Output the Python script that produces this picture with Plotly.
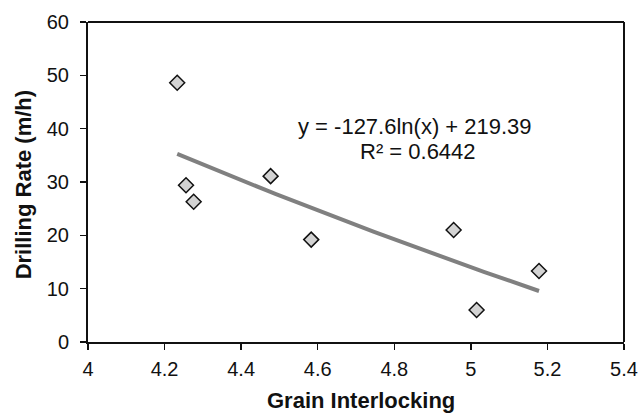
import numpy as np
import plotly.graph_objects as go

grain_interlocking = [4.233, 4.256, 4.276, 4.477, 4.583, 4.955, 5.015, 5.178]
drilling_rate = [48.6, 29.4, 26.3, 31.1, 19.2, 21.0, 6.0, 13.3]

# Logarithmic trendline reported on the chart: y = a*ln(x) + b
trend_a = -127.6
trend_b = 219.39
r_squared = 0.6442

x_title = "Grain Interlocking"
y_title = "Drilling Rate (m/h)"

x_tr = np.linspace(min(grain_interlocking), max(grain_interlocking), 60)
y_tr = trend_a * np.log(x_tr) + trend_b

font_family = "Liberation Sans, Arial, sans-serif"
ink = "#111111"

fig = go.Figure()
fig.add_trace(go.Scatter(x=x_tr, y=y_tr, mode="lines",
                         line=dict(color="#808080", width=4), showlegend=False))
fig.add_trace(go.Scatter(x=grain_interlocking, y=drilling_rate, mode="markers",
                         marker=dict(symbol="diamond", size=11.5, color="#d3d3d3",
                                     line=dict(color=ink, width=1.5)),
                         showlegend=False))

fig.add_annotation(x=4.854, y=40.5, xref="x", yref="y",
                   text=f"y = {trend_a}ln(x) + {trend_b}",
                   showarrow=False, yanchor="middle",
                   font=dict(family=font_family, size=22, color=ink))
fig.add_annotation(x=4.862, y=35.8, xref="x", yref="y",
                   text=f"R² = {r_squared}",
                   showarrow=False, yanchor="middle",
                   font=dict(family=font_family, size=22, color=ink))

# axis titles
fig.add_annotation(x=0.509, y=-0.184, xref="paper", yref="paper",
                   text=f"<b>{x_title}</b>", showarrow=False,
                   xanchor="center", yanchor="middle",
                   font=dict(family=font_family, size=22, color=ink))
fig.add_annotation(x=-0.121, y=0.49, xref="paper", yref="paper",
                   text=f"<b>{y_title}</b>", showarrow=False, textangle=-90,
                   xanchor="center", yanchor="middle",
                   font=dict(family=font_family, size=22, color=ink))

axis_common = dict(showline=True, linecolor=ink, linewidth=2, mirror=False,
                   ticks="outside", ticklen=6, tickwidth=1.5, tickcolor=ink,
                   showgrid=False, zeroline=False, automargin=False,
                   tickfont=dict(family=font_family, size=20, color=ink))

fig.update_xaxes(range=[4, 5.4], dtick=0.2, tick0=4, ticklabelstandoff=2, **axis_common)
fig.update_yaxes(range=[0, 60], dtick=10, ticklabelstandoff=7, **axis_common)

fig.update_layout(width=641, height=414, plot_bgcolor="white", paper_bgcolor="white",
                  margin=dict(l=88, r=17, t=22, b=72))

# right and top borders of the plot area
fig.add_shape(type="line", xref="paper", yref="paper", x0=1, x1=1, y0=0, y1=1,
              line=dict(color=ink, width=2))
fig.add_shape(type="line", xref="paper", yref="paper", x0=0, x1=1, y0=1, y1=1,
              line=dict(color=ink, width=2))

# remove the browser's default 8px body margin so the figure sits at the page origin
fig.write_html("out.html",
               config={"displayModeBar": False, "staticPlot": True},
               post_script="document.body.style.margin='0';document.body.style.overflow='hidden';")
